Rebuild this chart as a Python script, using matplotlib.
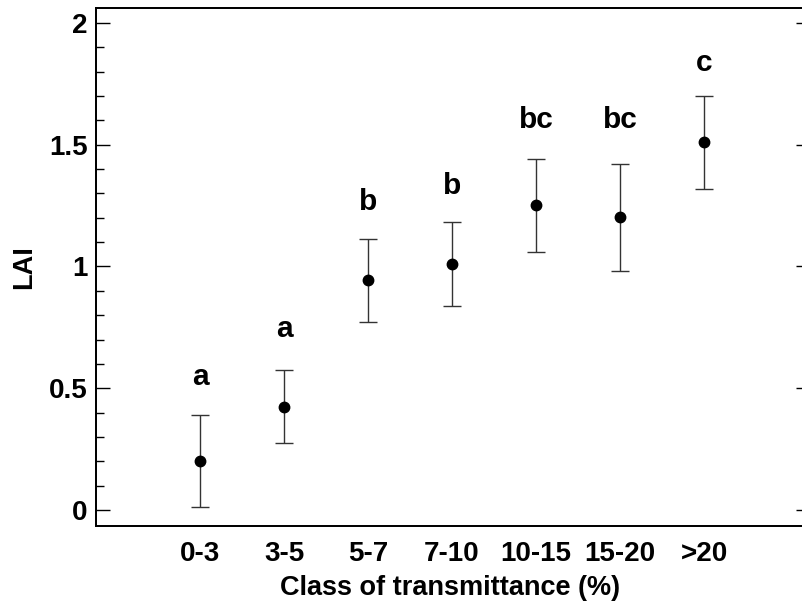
import numpy as np
import matplotlib
matplotlib.use("Agg")
import matplotlib.pyplot as plt
from matplotlib.ticker import MultipleLocator, FuncFormatter

classes = ["0-3", "3-5", "5-7", "7-10", "10-15", "15-20", ">20"]
lai_mean = [0.20, 0.424, 0.945, 1.010, 1.251, 1.202, 1.511]
err_upper = [0.389, 0.575, 1.113, 1.184, 1.441, 1.421, 1.701]
err_lower = [0.012, 0.276, 0.772, 0.836, 1.060, 0.983, 1.320]
letters = ["a", "a", "b", "b", "bc", "bc", "c"]
letter_y = [0.547, 0.743, 1.266, 1.332, 1.602, 1.602, 1.834]

plt.rcParams['font.family'] = ['Liberation Sans', 'DejaVu Sans']
plt.rcParams['font.weight'] = 'bold'

fig = plt.figure(figsize=(8.02, 6.07), dpi=100)
ax = fig.add_axes([96 / 802, 1 - 525.7 / 607, (804 - 96) / 802, (525.7 - 8) / 607])

x = np.arange(len(classes))
mean = np.array(lai_mean)
yerr = [mean - np.array(err_lower), np.array(err_upper) - mean]
ax.errorbar(x, mean, yerr=yerr, fmt='o', color='black', ecolor='#333333',
            elinewidth=1.0, capsize=6.5, capthick=1.0, markersize=7.5)

for xi, lab, ly in zip(x, letters, letter_y):
    ax.text(xi, ly, lab, ha='center', va='center', fontsize=21.5, fontweight='bold')

ax.set_xlim(-1.238, 7.19)
ax.set_ylim(-0.065, 2.062)
ax.set_xticks(x)
ax.set_xticklabels(classes)
ax.tick_params(axis='x', length=0, pad=11, labelsize=20)
ax.yaxis.set_major_locator(MultipleLocator(0.5))
ax.yaxis.set_minor_locator(MultipleLocator(0.1))
ax.yaxis.set_major_formatter(FuncFormatter(lambda v, p: f"{v:g}"))
ax.tick_params(axis='y', which='major', direction='in', length=10, width=1.0,
               labelsize=20, pad=6)
ax.tick_params(axis='y', which='minor', direction='in', length=5.8, width=1.0)

ax2 = ax.twinx()
ax2.set_ylim(ax.get_ylim())
ax2.yaxis.set_major_locator(MultipleLocator(0.5))
ax2.yaxis.set_minor_locator(MultipleLocator(0.1))
ax2.tick_params(axis='y', which='major', direction='in', length=6, width=1.0, labelright=False)
ax2.tick_params(axis='y', which='minor', direction='in', length=1.5, width=1.0)

for a in (ax, ax2):
    for s in a.spines.values():
        s.set_linewidth(1.3)

ax.set_xlabel("Class of transmittance (%)", fontsize=19.5, fontweight='bold')
ax.xaxis.set_label_coords(0.5, (525.7 - 588) / 517.7)
ax.xaxis.label.set_va('center')
ax.set_ylabel("LAI", fontsize=19.5, fontweight='bold', va='center')
ax.yaxis.set_label_coords((24 - 96) / 708, 0.5)

fig.savefig("out.png", dpi=100)
